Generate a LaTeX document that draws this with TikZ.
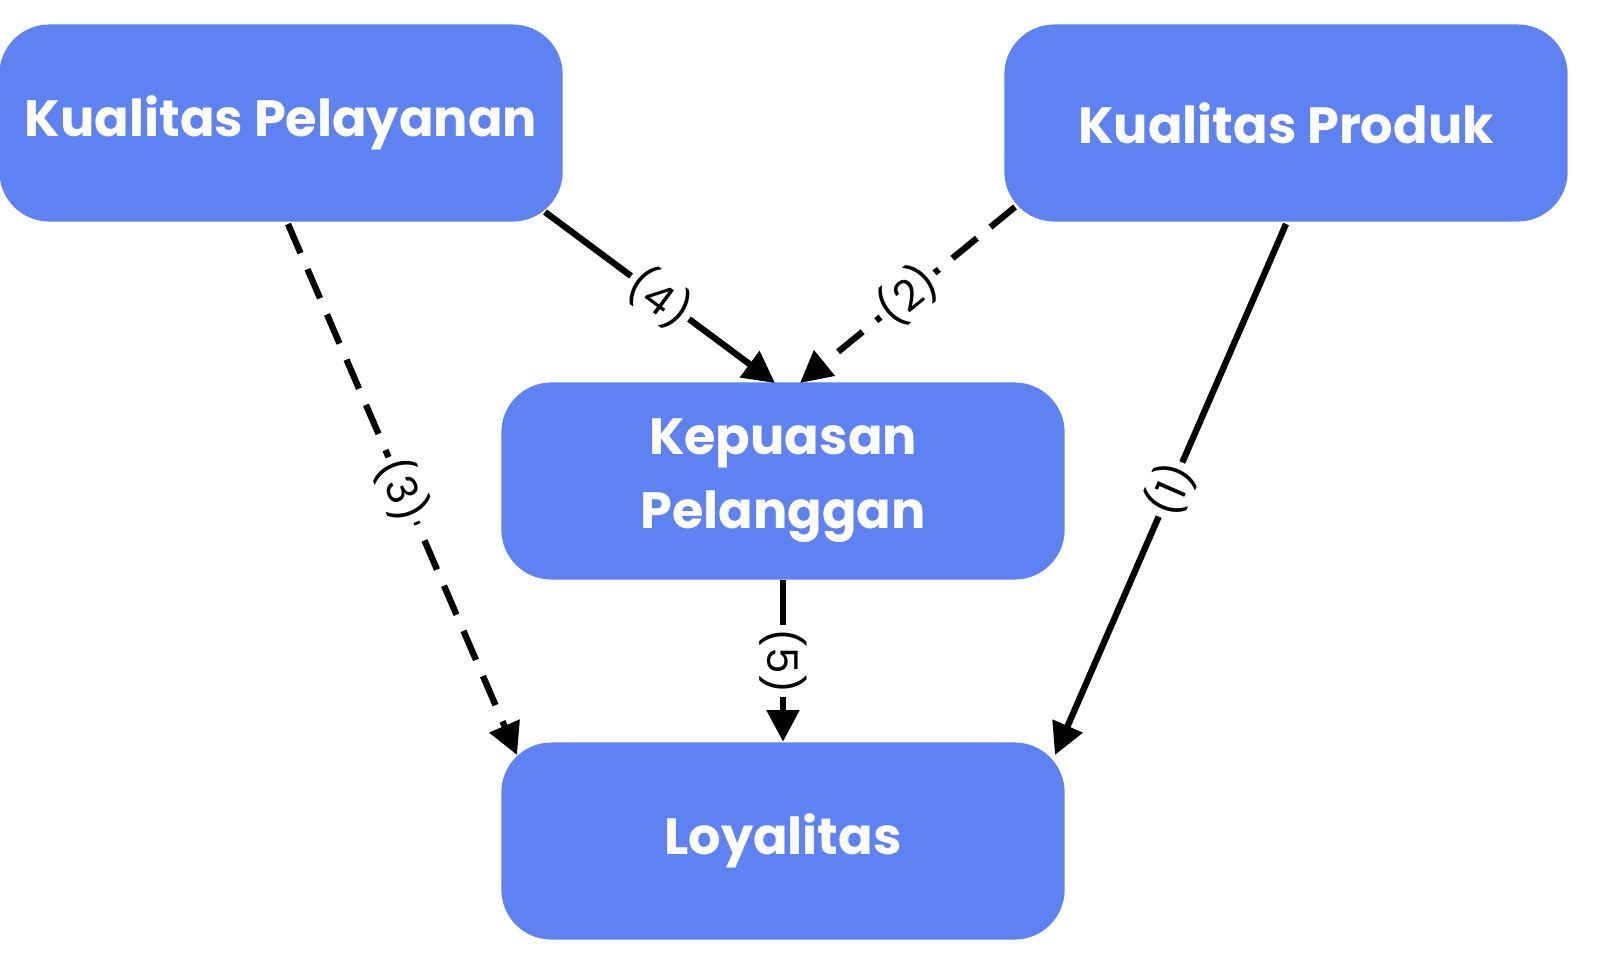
\documentclass[tikz,border=0pt]{standalone}
\usepackage{fontspec}
\setmainfont{Poppins}
\usetikzlibrary{arrows.meta}
\definecolor{BoxBlue}{HTML}{5F82F2}
\tikzset{>={Triangle[length=9pt,width=9pt]}}
\tikzstyle{varbox}=[fill=BoxBlue, rounded corners=0.5cm, minimum width=5.63cm, minimum height=1.97cm, text=white, font=\fontsize{14.5}{21}\selectfont\bfseries, align=center]
\tikzstyle{link}=[->, line width=1.8pt, black]
\tikzstyle{tag}=[sloped, fill=white, inner sep=1pt, font=\fontsize{12}{13}\selectfont]
\begin{document}
\begin{tikzpicture}[x=0.01cm, y=-0.01cm]
		\useasboundingbox (0,0) rectangle (1600,978);
		
		% Boxes
		\node[varbox] (pelayanan) at (281,123) {Kualitas Pelayanan};
		\node[varbox] (produk) at (1286,123) {Kualitas Produk};
		\node[varbox] (kepuasan) at (783,481) {Kepuasan\\Pelanggan};
		\node[varbox] (loyalitas) at (783,841) {Loyalitas};
		
		% Arrows
		\draw[link] (545,212) -- node[tag] {(4)} (775,383);
		\draw[link, dash pattern=on 9pt off 5pt] (1015,207) -- node[tag] {(2)} (800,383);
		\draw[link, dash pattern=on 9pt off 5pt] (288,224) -- node[tag] {(3)} (517,755);
		\draw[link] (1286,224) -- node[tag] {(1)} (1055,755);
		\draw[link] (kepuasan.south) -- node[tag] {(5)} (loyalitas.north);
	\end{tikzpicture}
\end{document}
